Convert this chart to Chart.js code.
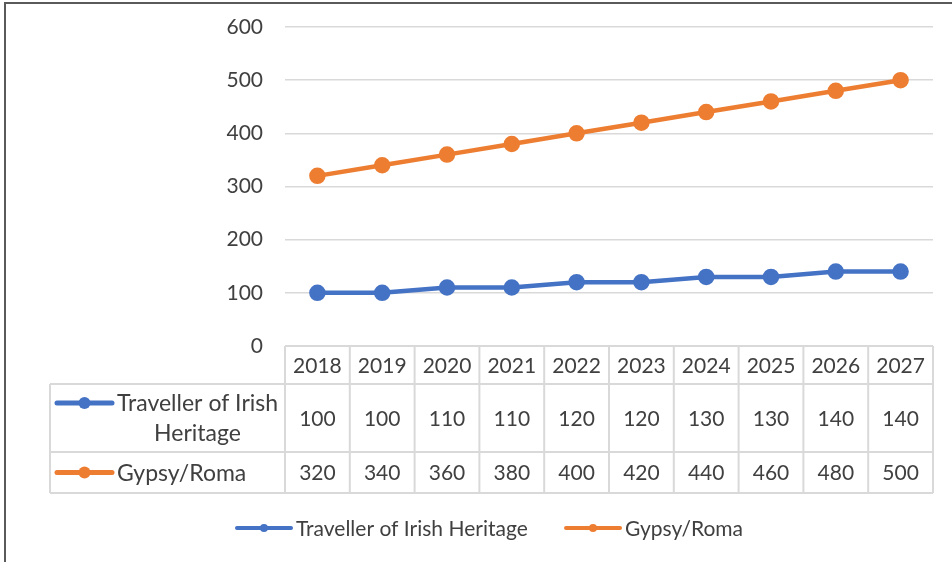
<!DOCTYPE html>
<html>
<head>
<meta charset="utf-8">
<script src="https://cdn.jsdelivr.net/npm/chart.js@4/dist/chart.umd.min.js"></script>
<style>
  html, body { margin: 0; padding: 0; background: #fff; }
  #wrap { position: relative; width: 952px; height: 562px; }
  #frame { position: absolute; left: 4px; top: 2px; right: 0; bottom: 0;
           border-top: 2px solid #5a5a5a; border-left: 2px solid #5a5a5a; pointer-events: none; }
</style>
</head>
<body>
<div id="wrap">
  <canvas id="popChart" width="952" height="562"></canvas>
  <div id="frame"></div>
</div>
<script>
// Chart values
var years = ['2018','2019','2020','2021','2022','2023','2024','2025','2026','2027'];
var traveller = [100,100,110,110,120,120,130,130,140,140];
var gypsyRoma = [320,340,360,380,400,420,440,460,480,500];
var seriesNames = ['Traveller of Irish Heritage','Gypsy/Roma'];
var tableLabels = [['Traveller of Irish','Heritage'],['Gypsy/Roma']];
var yTicks = [0,100,200,300,400,500,600];

var FONT = 'Lato, "Open Sans", sans-serif';
var TXT = '#404040';
var GRID = '#d9d9d9';

// draws the Excel style data table and the legend from the scales
var tablePlugin = {
  id: 'dataTable',
  afterDraw: function(chart){
    var ctx = chart.ctx;
    var xs = chart.scales.x;
    var area = chart.chartArea;
    var colW = (area.right - area.left) / years.length;
    var top = area.bottom, r1 = 384, r2 = 452, bot = 493, labelLeft = 50;
    var sets = chart.data.datasets;

    ctx.save();
    ctx.strokeStyle = GRID;
    ctx.lineWidth = 2;
    ctx.beginPath();
    ctx.moveTo(area.left, top); ctx.lineTo(area.right, top);
    ctx.moveTo(labelLeft, r1); ctx.lineTo(area.right, r1);
    ctx.moveTo(labelLeft, r2); ctx.lineTo(area.right, r2);
    ctx.moveTo(labelLeft, bot); ctx.lineTo(area.right, bot);
    ctx.moveTo(labelLeft, r1); ctx.lineTo(labelLeft, bot);
    for (var i = 0; i <= years.length; i++){
      var x = area.left + i * colW;
      ctx.moveTo(x, top); ctx.lineTo(x, bot);
    }
    ctx.stroke();

    ctx.fillStyle = TXT;
    ctx.font = '21px ' + FONT;
    ctx.textAlign = 'center';
    ctx.textBaseline = 'middle';
    var rowMid = [(r1 + r2) / 2, (r2 + bot) / 2];
    years.forEach(function(y, i){
      var cx = xs.getPixelForValue(i);
      ctx.fillText(y, cx, (top + r1) / 2 + 1);
      sets.forEach(function(ds, j){
        ctx.fillText(String(ds.data[i]), cx, rowMid[j] + 1);
      });
    });

    // row labels with series markers
    ctx.font = '23px ' + FONT;
    sets.forEach(function(ds, j){
      var lines = tableLabels[j];
      var my = lines.length > 1 ? rowMid[j] - 15 : rowMid[j];
      drawMarker(ctx, 57, 112, my, ds.borderColor, 5, 6);
      ctx.fillStyle = TXT;
      ctx.textAlign = 'center';
      var w = Math.max.apply(null, lines.map(function(t){ return ctx.measureText(t).width; }));
      lines.forEach(function(t, k){
        ctx.fillText(t, 117 + w / 2, my + 1 + k * 30);
      });
    });

    // legend
    ctx.font = '21px ' + FONT;
    ctx.textAlign = 'left';
    var lx = [237, 566];
    sets.forEach(function(ds, j){
      drawMarker(ctx, lx[j], lx[j] + 54, 528, ds.borderColor, 4, 4);
      ctx.fillStyle = TXT;
      ctx.fillText(ds.label, lx[j] + 59, 529);
    });
    ctx.restore();
  }
};

function drawMarker(ctx, x0, x1, y, color, lw, r){
  ctx.strokeStyle = color;
  ctx.lineWidth = lw;
  ctx.lineCap = 'round';
  ctx.beginPath(); ctx.moveTo(x0, y); ctx.lineTo(x1, y); ctx.stroke();
  ctx.fillStyle = color;
  ctx.beginPath(); ctx.arc((x0 + x1) / 2, y, r, 0, Math.PI * 2); ctx.fill();
}

var popctx = document.getElementById('popChart').getContext('2d');
var popChart = new Chart(popctx, {
  type: 'line',
  data: {
    labels: years,
    datasets: [{
      label: seriesNames[0],
      data: traveller,
      borderColor: '#4472C4',
      backgroundColor: '#4472C4',
      borderWidth: 4.5,
      pointRadius: 6,
      pointHoverRadius: 6
    },{
      label: seriesNames[1],
      data: gypsyRoma,
      borderColor: '#ED7D31',
      backgroundColor: '#ED7D31',
      borderWidth: 4.5,
      pointRadius: 6,
      pointHoverRadius: 6
    }]
  },
  options: {
    responsive: false,
    animation: false,
    layout: { padding: { left: 0, right: 19, top: 27, bottom: 216 } },
    plugins: { legend: { display: false }, tooltip: { enabled: false } },
    scales: {
      x: { display: false, offset: true },
      y: {
        min: 0, max: 600,
        afterFit: function(s){ s.width = 285; s.paddingTop = 12; s.paddingBottom = 12; },
        afterBuildTicks: function(s){ s.ticks = yTicks.map(function(v){ return { value: v }; }); },
        border: { display: false },
        grid: { color: GRID, lineWidth: 1.5, drawTicks: false },
        ticks: { color: TXT, font: { size: 21, family: FONT }, padding: 22 }
      }
    }
  },
  plugins: [tablePlugin]
});
</script>
</body>
</html>
